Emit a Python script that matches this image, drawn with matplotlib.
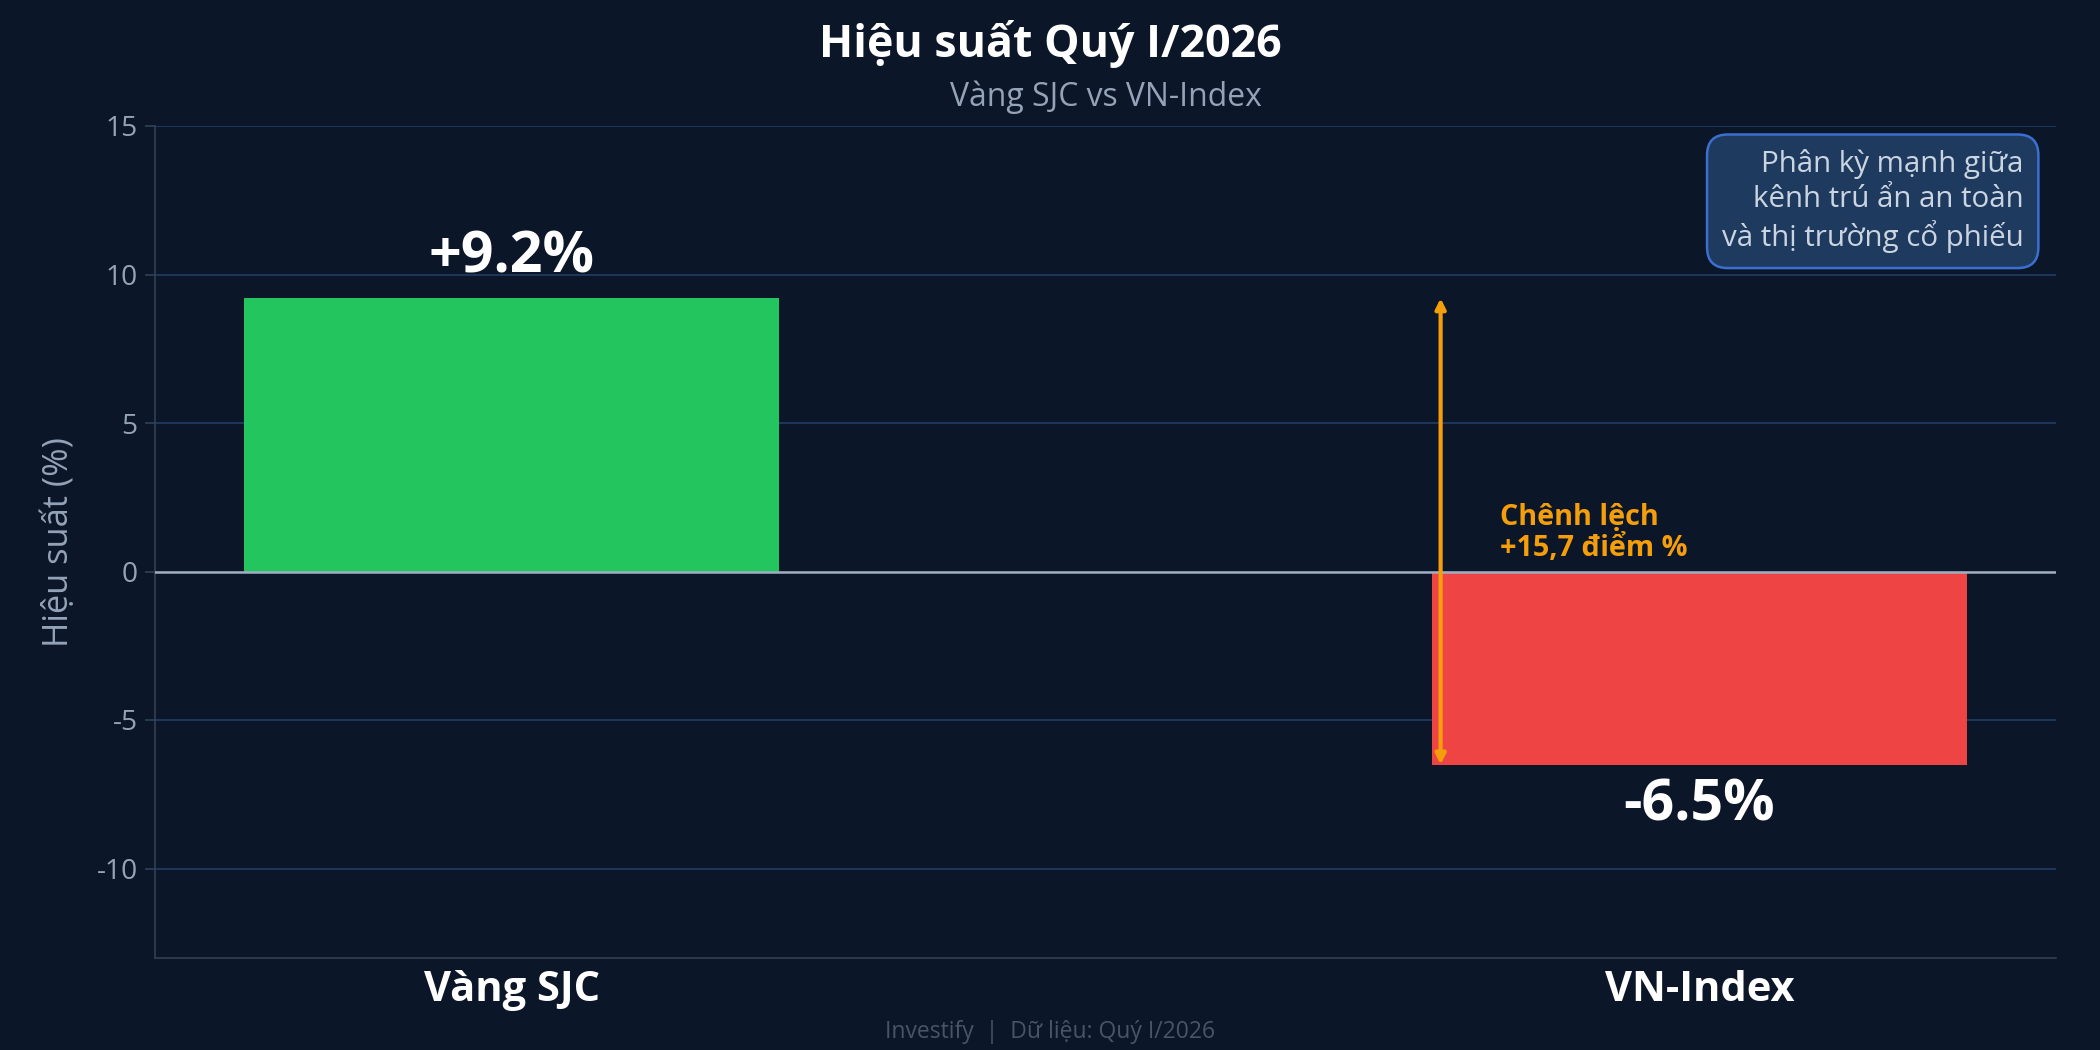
import matplotlib
matplotlib.use("Agg")
import matplotlib.pyplot as plt

plt.rcParams['font.family'] = ['Open Sans', 'Noto Sans', 'DejaVu Sans']

BG = "#0b1628"
MUTED = "#94a3b8"
GRID = "#1e3a5f"

categories = ["Vàng SJC", "VN-Index"]
returns = [9.2, -6.5]
bar_colors = ["#22c55e", "#ef4444"]
value_labels = ["+9.2%", "-6.5%"]
yticks = [-10, -5, 0, 5, 10, 15]
spread_label = "Chênh lệch\n+15,7 điểm %"
note = "Phân kỳ mạnh giữa\nkênh trú ẩn an toàn\nvà thị trường cổ phiếu"

fig = plt.figure(figsize=(14, 7), dpi=150, facecolor=BG)
ax = fig.add_axes([0.074, 0.088, 0.905, 0.792])
ax.set_facecolor(BG)

x = list(range(len(categories)))
ax.bar(x, returns, width=0.45, color=bar_colors, zorder=3)

# value labels
for xi, v, lab in zip(x, returns, value_labels):
    if v >= 0:
        ax.text(xi, v + 0.4, lab, ha='center', va='bottom', color='white',
                fontsize=27.5, fontweight='bold', zorder=5)
    else:
        ax.text(xi, v - 0.4, lab, ha='center', va='top', color='white',
                fontsize=27.5, fontweight='bold', zorder=5)

# zero line
ax.axhline(0, color="#a0aec0", lw=1.2, zorder=4)

# spread arrow
ax_x = x[1] - 0.218
ax.annotate("", xy=(ax_x, returns[0]), xytext=(ax_x, returns[1]),
            arrowprops=dict(arrowstyle='<|-|>', color="#f59e0b", lw=2,
                            mutation_scale=10, shrinkA=0, shrinkB=0),
            zorder=6)
ax.text(x[1] - 0.168, 0.3, spread_label, ha='left', va='bottom',
        color="#f59e0b", fontsize=13.8, fontweight='bold', linespacing=1.05, zorder=6)

# note box
ax.text(0.983, 0.972, note, transform=ax.transAxes, ha='right', va='top',
        color="#cbd5e1", fontsize=14.2, linespacing=1.25, multialignment='right',
        bbox=dict(boxstyle='round,pad=0.5,rounding_size=0.7', facecolor="#1e3a5f",
                  edgecolor="#3b6fd0", lw=1.2), zorder=7)

ax.set_xlim(-0.3, 1.3)
ax.set_ylim(-13, 15)
ax.set_yticks(yticks)
ax.set_yticklabels([str(t) for t in yticks])
ax.set_xticks(x)
ax.set_xticklabels(categories, fontsize=20, fontweight='bold', color='white')
ax.tick_params(axis='x', length=0, pad=6)
ax.tick_params(axis='y', colors=MUTED, labelsize=13.5, length=5, color="#334155")
ax.grid(axis='y', color=GRID, lw=0.9, zorder=0)
ax.set_ylabel("Hiệu suất (%)", color=MUTED, fontsize=16.5, labelpad=10)

for side in ['top', 'right']:
    ax.spines[side].set_visible(False)
for side in ['left', 'bottom']:
    ax.spines[side].set_color("#334155")

fig.text(0.5, 0.958, "Hiệu suất Quý I/2026", ha='center', va='center',
         color='white', fontsize=21.5, fontweight='bold')
ax.text(0.5, 1.035, "Vàng SJC vs VN-Index", transform=ax.transAxes,
        ha='center', va='center', color=MUTED, fontsize=15.3)
fig.text(0.5, 0.017, "Investify  |  Dữ liệu: Quý I/2026", ha='center', va='center',
         color="#475569", fontsize=11)

fig.savefig("out.png", dpi=150, facecolor=BG)
